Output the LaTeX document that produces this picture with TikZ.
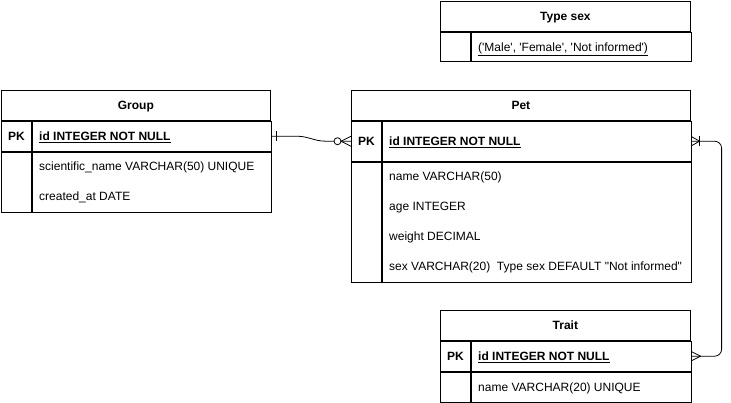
\documentclass[tikz,border=0pt]{standalone}
\usepackage{fontspec}
\setmainfont{Liberation Sans}
\usetikzlibrary{positioning,calc}
\tikzset
{
    tablehead/.style = {draw=black, minimum height=30pt, inner sep=0pt, anchor=north west, text height=8.6pt, text depth=0pt, font=\fontsize{12}{14}\selectfont\bfseries},
    keycell/.style   = {draw=black, minimum width=30pt, inner sep=0pt, anchor=north west, text height=8.6pt, text depth=0pt, font=\fontsize{12}{14}\selectfont\bfseries},
    fieldcell/.style = {draw=black, inner sep=0pt, anchor=north west},
    fieldtext/.style = {inner sep=0pt, anchor=base west},
    pkfield/.style   = {fieldtext, font=\fontsize{12}{14}\selectfont\bfseries}
}

\begin{document}
\begin{tikzpicture}
    [x=1pt, y=-1pt, line width=0.8pt, font=\fontsize{12}{14}\selectfont]
    \useasboundingbox (0,0) rectangle (731,402);

    % Group
    \node [tablehead, minimum width=269pt] (group) at (1,90) {Group};
    \node [keycell, minimum height=30pt] (group-pk) at (group.south west) {PK};
    \node [fieldcell, minimum width=239pt, minimum height=30pt] (group-id) at (group-pk.north east) {};
    \node [pkfield] (group-id-text) at ($(group-id.west)+(7,4.3)$) {\underline{id INTEGER NOT NULL}};
    \node [keycell, minimum height=60pt] (group-keys) at (group-pk.south west) {};
    \node [fieldcell, minimum width=239pt, minimum height=60pt] (group-fields) at (group-keys.north east) {};
    \node [fieldtext] (group-sciname) at ($(group-fields.north west)+(7,19.3)$) {scientific\_name VARCHAR(50) UNIQUE};
    \node [fieldtext] (group-created) at ($(group-fields.north west)+(7,49.3)$) {created\_at DATE};

    % Pet
    \node [tablehead, minimum width=339pt] (pet) at (351,90) {Pet};
    \node [keycell, minimum height=40pt] (pet-pk) at (pet.south west) {PK};
    \node [fieldcell, minimum width=309pt, minimum height=40pt] (pet-id) at (pet-pk.north east) {};
    \node [pkfield] (pet-id-text) at ($(pet-id.west)+(7,4.3)$) {\underline{id INTEGER NOT NULL}};
    \node [keycell, minimum height=120pt] (pet-keys) at (pet-pk.south west) {};
    \node [fieldcell, minimum width=309pt, minimum height=120pt] (pet-fields) at (pet-keys.north east) {};
    \node [fieldtext] (pet-name) at ($(pet-fields.north west)+(7,19.3)$) {name VARCHAR(50)};
    \node [fieldtext] (pet-age) at ($(pet-fields.north west)+(7,49.3)$) {age INTEGER};
    \node [fieldtext] (pet-weight) at ($(pet-fields.north west)+(7,79.3)$) {weight DECIMAL};
    \node [fieldtext] (pet-sex) at ($(pet-fields.north west)+(7,109.3)$) {sex VARCHAR(20)\ \ Type sex DEFAULT \textquotedbl Not informed\textquotedbl};

    % Type sex
    \node [tablehead, minimum width=250pt] (sextype) at (440,1) {Type sex};
    \node [keycell, minimum height=29pt] (sextype-key) at (sextype.south west) {};
    \node [fieldcell, minimum width=220pt, minimum height=29pt] (sextype-values) at (sextype-key.north east) {};
    \node [fieldtext] (sextype-text) at ($(sextype-values.west)+(7,4.3)$)
      {\underline{(\textquotesingle Male\textquotesingle, \textquotesingle Female\textquotesingle, \textquotesingle Not informed\textquotesingle)}};

    % Trait
    \node [tablehead, minimum width=250pt] (trait) at (440,310) {Trait};
    \node [keycell, minimum height=30pt] (trait-pk) at (trait.south west) {PK};
    \node [fieldcell, minimum width=220pt, minimum height=30pt] (trait-id) at (trait-pk.north east) {};
    \node [pkfield] (trait-id-text) at ($(trait-id.west)+(7,4.3)$) {\underline{id INTEGER NOT NULL}};
    \node [keycell, minimum height=30pt] (trait-keys) at (trait-pk.south west) {};
    \node [fieldcell, minimum width=220pt, minimum height=30pt] (trait-fields) at (trait-keys.north east) {};
    \node [fieldtext] (trait-name) at ($(trait-fields.west)+(7,4.3)$) {name VARCHAR(20) UNIQUE};

    % Group -- Pet
    \draw (group-id.east) -- ++(25,0) .. controls +(12,0) and +(-12,0) .. ($(pet-pk.west)+(-25,0)$) -- (pet-pk.west);
    \draw ($(group-id.east)+(5,-5)$) -- ($(group-id.east)+(5,5)$);
    \draw [fill=white] ($(pet-pk.west)+(-13.5,0)$) circle (3.5pt);
    \draw ($(pet-pk.west)+(-10,0)$) -- ($(pet-pk.west)+(0,-5)$);
    \draw ($(pet-pk.west)+(-10,0)$) -- ($(pet-pk.west)+(0,5)$);

    % Pet -- Trait
    \draw [rounded corners=7pt] (pet-id.east) -- ++(30,0) |- (trait-id.east);
    \draw ($(pet-id.east)+(8,-5)$) -- ($(pet-id.east)+(8,5)$);
    \draw ($(pet-id.east)+(8,0)$) -- ($(pet-id.east)+(0,-4.5)$);
    \draw ($(pet-id.east)+(8,0)$) -- ($(pet-id.east)+(0,4.5)$);
    \draw ($(trait-id.east)+(9,0)$) -- ($(trait-id.east)+(0,-4.5)$);
    \draw ($(trait-id.east)+(9,0)$) -- ($(trait-id.east)+(0,4.5)$);
\end{tikzpicture}
\end{document}
